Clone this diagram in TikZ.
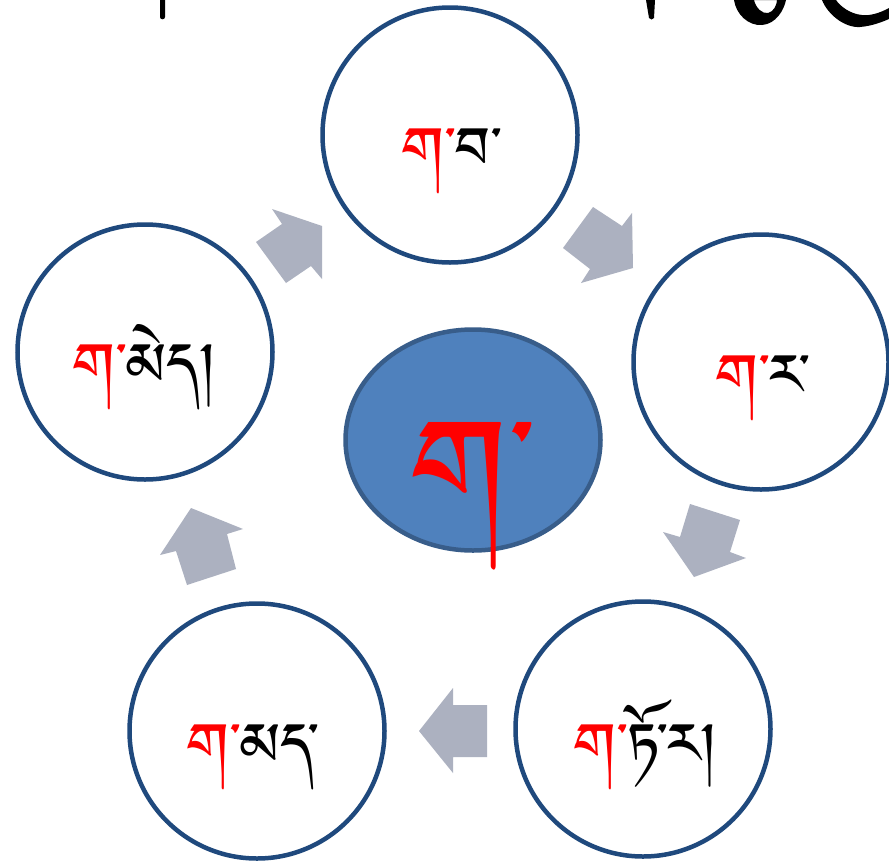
\documentclass[tikz,border=0pt]{standalone}
\usepackage{fontspec}
\usetikzlibrary{shapes.geometric}
\IfFontExistsTF{Jomolhari}{\newfontfamily\tib[Script=Tibetan]{Jomolhari}}{%
\IfFontExistsTF{Tibetan Machine Uni}{\newfontfamily\tib[Script=Tibetan]{Tibetan Machine Uni}}{%
\IfFontExistsTF{Microsoft Himalaya}{\newfontfamily\tib[Script=Tibetan]{Microsoft Himalaya}}{%
\IfFontExistsTF{Qomolangma-Uchen Sarchen}{\newfontfamily\tib[Script=Tibetan]{Qomolangma-Uchen Sarchen}}{%
\IfFontExistsTF{FreeSerif}{\newfontfamily\tib[Script=Tibetan]{FreeSerif}}{%
\newfontfamily\tib{DejaVu Sans}}}}}}
\definecolor{ringblue}{RGB}{31,73,125}
\definecolor{ellfill}{RGB}{79,129,189}
\definecolor{ellborder}{RGB}{56,93,138}
\definecolor{arrowgray}{RGB}{172,177,192}
\tikzset{
  ring/.style={circle, draw=ringblue, line width=4.5pt, minimum size=255pt, inner sep=0pt, fill=white},
  hubshape/.style={ellipse, draw=ellborder, fill=ellfill, line width=4.5pt, minimum width=255pt, minimum height=221pt, inner sep=0pt},
  blockarrow/.style={fill=arrowgray, draw=none},
  lbl/.style={anchor=base, inner sep=0pt, font=\tib\fontsize{74}{80}\selectfont},
  hublbl/.style={anchor=base, inner sep=0pt, font=\tib\fontsize{168}{180}\selectfont, text=red},
  titlefrag/.style={fill=black, draw=none}
}
\begin{document}
\begin{tikzpicture}[x=1pt,y=-1pt]
\fill[white] (0,0) rectangle (889,865);
\useasboundingbox (0,0) rectangle (889,865);
% title fragments (cut off at top)
\fill[titlefrag] (160,0) -- (165,0) -- (165,17) .. controls (165,20) and (160,20) .. (160,17) -- cycle;
\fill[titlefrag] (646,0) -- (655,0) -- (654,18) .. controls (653,20) and (650,20) .. (649,18) -- cycle;
\fill[titlefrag, even odd rule] (734,0) .. controls (736,14) and (748,26) .. (762,25) .. controls (776,24) and (784,10) .. (786,0) -- cycle
  (754,0) .. controls (756,8) and (762,14) .. (768,13) .. controls (774,12) and (777,4) .. (777,0) -- cycle;
\fill[titlefrag] (822,0) .. controls (828,15) and (845,28) .. (860,27) .. controls (872,26) and (882,22) .. (889,19) -- (889,8) .. controls (880,13) and (870,16) .. (862,15) .. controls (850,14) and (840,6) .. (836,0) -- cycle;
% circles
\node[ring] (cTop) at (450,135) {};
\node[ring] (cRight) at (761,362) {};
\node[ring] (cBR) at (643,729) {};
\node[ring] (cBL) at (257,731) {};
\node[ring] (cLeft) at (145,352) {};
\node[hubshape] (hub) at (473,440) {};
% block arrows
\fill[blockarrow] (256,242) -- (282,224) -- (272,209) -- (322,226) -- (322,279) -- (311,266) -- (286,283) -- cycle;
\fill[blockarrow] (593,207) -- (622,226) -- (632,213) -- (633,268) -- (581,283) -- (590,269) -- (563,248) -- cycle;
\fill[blockarrow] (690,504) -- (740,520) -- (730,552) -- (746,558) -- (694,577) -- (663,532) -- (680,537) -- cycle;
\fill[blockarrow] (487,705) -- (453,705) -- (453,688) -- (419,731) -- (453,773) -- (453,757) -- (487,757) -- cycle;
\fill[blockarrow] (191,508) -- (243,529) -- (227,534) -- (236,569) -- (187,585) -- (176,551) -- (160,555) -- cycle;
% labels
\node[lbl] (tTop) at (452,183) {{\color{red}ག་}བ་};
\node[lbl] (tRight) at (763,410) {{\color{red}ག་}ར་};
\node[lbl] (tBR) at (646,779) {{\color{red}ག་}ཏོ་ར།};
\node[lbl] (tBL) at (253,779) {{\color{red}ག་}མད་};
\node[lbl] (tLeft) at (145,399) {{\color{red}ག་}མེད།};
\node[hublbl] (tHub) at (473,546) {ག་};
\end{tikzpicture}
\end{document}
